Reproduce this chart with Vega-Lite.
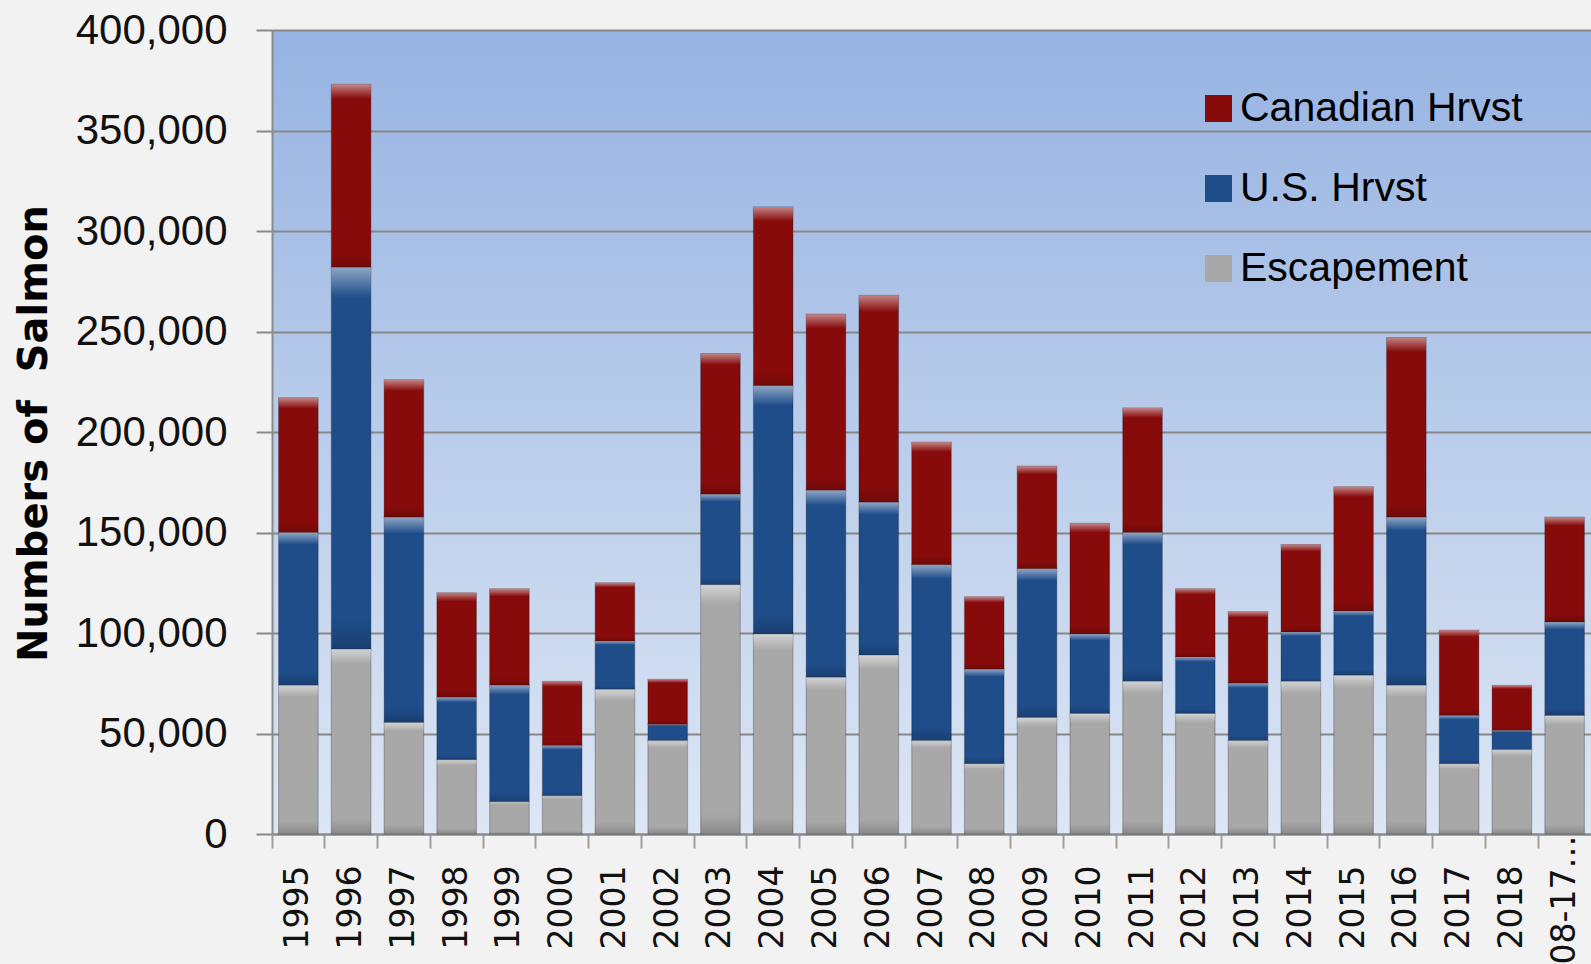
{
  "$schema": "https://vega.github.io/schema/vega-lite/v6.json",
  "width": 1319,
  "height": 804,
  "autosize": {"type": "none"},
  "padding": {"left": 272, "top": 30, "right": 0, "bottom": 130},
  "background": "#f2f2f2",
  "config": {
    "view": {
      "stroke": null,
      "fill": {"gradient": "linear", "x1": 0, "y1": 0, "x2": 0, "y2": 1,
        "stops": [{"offset": 0, "color": "#96b3e2"}, {"offset": 1, "color": "#dde6f4"}]}
    }
  },
  "data": {
    "values": [
      {"year": "1995", "series": "Escapement", "value": 74000}, {"year": "1995", "series": "U.S. Hrvst", "value": 76000}, {"year": "1995", "series": "Canadian Hrvst", "value": 67000},
      {"year": "1996", "series": "Escapement", "value": 92000}, {"year": "1996", "series": "U.S. Hrvst", "value": 190000}, {"year": "1996", "series": "Canadian Hrvst", "value": 91000},
      {"year": "1997", "series": "Escapement", "value": 55500}, {"year": "1997", "series": "U.S. Hrvst", "value": 102100}, {"year": "1997", "series": "Canadian Hrvst", "value": 68400},
      {"year": "1998", "series": "Escapement", "value": 37000}, {"year": "1998", "series": "U.S. Hrvst", "value": 31000}, {"year": "1998", "series": "Canadian Hrvst", "value": 52000},
      {"year": "1999", "series": "Escapement", "value": 16000}, {"year": "1999", "series": "U.S. Hrvst", "value": 58000}, {"year": "1999", "series": "Canadian Hrvst", "value": 48000},
      {"year": "2000", "series": "Escapement", "value": 19000}, {"year": "2000", "series": "U.S. Hrvst", "value": 25000}, {"year": "2000", "series": "Canadian Hrvst", "value": 32000},
      {"year": "2001", "series": "Escapement", "value": 72000}, {"year": "2001", "series": "U.S. Hrvst", "value": 24000}, {"year": "2001", "series": "Canadian Hrvst", "value": 29000},
      {"year": "2002", "series": "Escapement", "value": 46500}, {"year": "2002", "series": "U.S. Hrvst", "value": 8000}, {"year": "2002", "series": "Canadian Hrvst", "value": 22500},
      {"year": "2003", "series": "Escapement", "value": 124000}, {"year": "2003", "series": "U.S. Hrvst", "value": 45000}, {"year": "2003", "series": "Canadian Hrvst", "value": 70000},
      {"year": "2004", "series": "Escapement", "value": 99500}, {"year": "2004", "series": "U.S. Hrvst", "value": 123500}, {"year": "2004", "series": "Canadian Hrvst", "value": 89000},
      {"year": "2005", "series": "Escapement", "value": 78000}, {"year": "2005", "series": "U.S. Hrvst", "value": 93000}, {"year": "2005", "series": "Canadian Hrvst", "value": 87600},
      {"year": "2006", "series": "Escapement", "value": 89000}, {"year": "2006", "series": "U.S. Hrvst", "value": 76000}, {"year": "2006", "series": "Canadian Hrvst", "value": 103000},
      {"year": "2007", "series": "Escapement", "value": 46500}, {"year": "2007", "series": "U.S. Hrvst", "value": 87500}, {"year": "2007", "series": "Canadian Hrvst", "value": 61000},
      {"year": "2008", "series": "Escapement", "value": 35000}, {"year": "2008", "series": "U.S. Hrvst", "value": 47000}, {"year": "2008", "series": "Canadian Hrvst", "value": 36000},
      {"year": "2009", "series": "Escapement", "value": 58000}, {"year": "2009", "series": "U.S. Hrvst", "value": 74000}, {"year": "2009", "series": "Canadian Hrvst", "value": 51000},
      {"year": "2010", "series": "Escapement", "value": 60000}, {"year": "2010", "series": "U.S. Hrvst", "value": 39500}, {"year": "2010", "series": "Canadian Hrvst", "value": 55000},
      {"year": "2011", "series": "Escapement", "value": 76000}, {"year": "2011", "series": "U.S. Hrvst", "value": 74000}, {"year": "2011", "series": "Canadian Hrvst", "value": 62000},
      {"year": "2012", "series": "Escapement", "value": 60000}, {"year": "2012", "series": "U.S. Hrvst", "value": 28000}, {"year": "2012", "series": "Canadian Hrvst", "value": 34000},
      {"year": "2013", "series": "Escapement", "value": 46500}, {"year": "2013", "series": "U.S. Hrvst", "value": 28500}, {"year": "2013", "series": "Canadian Hrvst", "value": 35600},
      {"year": "2014", "series": "Escapement", "value": 76000}, {"year": "2014", "series": "U.S. Hrvst", "value": 24500}, {"year": "2014", "series": "Canadian Hrvst", "value": 43500},
      {"year": "2015", "series": "Escapement", "value": 79000}, {"year": "2015", "series": "U.S. Hrvst", "value": 32000}, {"year": "2015", "series": "Canadian Hrvst", "value": 61700},
      {"year": "2016", "series": "Escapement", "value": 74000}, {"year": "2016", "series": "U.S. Hrvst", "value": 83600}, {"year": "2016", "series": "Canadian Hrvst", "value": 89400},
      {"year": "2017", "series": "Escapement", "value": 35000}, {"year": "2017", "series": "U.S. Hrvst", "value": 24000}, {"year": "2017", "series": "Canadian Hrvst", "value": 42500},
      {"year": "2018", "series": "Escapement", "value": 42000}, {"year": "2018", "series": "U.S. Hrvst", "value": 9500}, {"year": "2018", "series": "Canadian Hrvst", "value": 22500},
      {"year": "08-17…", "series": "Escapement", "value": 59000}, {"year": "08-17…", "series": "U.S. Hrvst", "value": 46500}, {"year": "08-17…", "series": "Canadian Hrvst", "value": 52100}
    ]
  },
  "transform": [
    {"calculate": "indexof(['Escapement','U.S. Hrvst','Canadian Hrvst'], datum.series)", "as": "stackOrder"}
  ],
  "encoding": {
    "x": {
      "field": "year", "type": "nominal", "sort": null,
      "scale": {"paddingInner": 0, "paddingOuter": 0},
      "axis": {
        "title": null, "bandPosition": 0, "labelAngle": -90,
        "labelFont": "DejaVu Sans", "labelFontSize": 33, "labelColor": "#111111",
        "tickSize": 14, "tickColor": "#a0a0a0", "tickWidth": 2,
        "labelPadding": {"condition": {"test": "datum.value === '08-17…'", "value": -13}, "value": 17},
        "domainColor": "#8a8a8a", "domainWidth": 2
      }
    },
    "y": {
      "field": "value", "type": "quantitative", "stack": "zero",
      "scale": {"domain": [0, 400000], "nice": false},
      "axis": {
        "title": "Numbers of \u00a0Salmon",
        "values": [0, 50000, 100000, 150000, 200000, 250000, 300000, 350000, 400000],
        "format": ",d",
        "grid": true, "gridColor": "#878787", "gridWidth": 2,
        "domainColor": "#8a8a8a", "domainWidth": 2,
        "tickColor": "#8a8a8a", "tickWidth": 2, "tickSize": 16,
        "labelFont": "Liberation Sans", "labelFontSize": 42, "labelColor": "#111111",
        "labelPadding": 29,
        "titleFont": "DejaVu Sans", "titleFontWeight": "bold", "titleFontSize": 40,
        "titleColor": "#000000", "titleX": -226, "titleY": 403, "titleBaseline": "alphabetic"
      }
    },
    "detail": {"field": "series"},
    "order": {"field": "stackOrder", "type": "quantitative"}
  },
  "layer": [
    {
      "mark": {"type": "bar", "width": {"band": 0.75}, "stroke": "rgba(0,0,0,0.22)", "strokeWidth": 1.2},
      "encoding": {
        "color": {
          "field": "series", "type": "nominal",
          "scale": {"domain": ["Canadian Hrvst", "U.S. Hrvst", "Escapement"], "range": ["#880b0b", "#1f4d8a", "#a8a8a8"]},
          "legend": {
            "title": null, "orient": "none", "legendX": 926, "legendY": 58,
            "symbolType": "square", "symbolSize": 729, "symbolStrokeWidth": 0,
            "labelFont": "Liberation Sans", "labelFontSize": 41, "labelColor": "#000000",
            "labelLimit": 500,
            "rowPadding": 38, "labelOffset": 1, "padding": 0
          }
        }
      }
    },
    {
      "mark": {
        "type": "bar", "width": {"band": 0.75}, "strokeWidth": 0,
        "fill": {"gradient": "linear", "x1": 0, "y1": 0, "x2": 0, "y2": 1, "stops": [
          {"offset": 0, "color": "rgba(255,255,255,0.5)"},
          {"offset": 0.08, "color": "rgba(255,255,255,0.0)"},
          {"offset": 0.92, "color": "rgba(0,0,0,0.0)"},
          {"offset": 1, "color": "rgba(0,0,0,0.18)"}
        ]}
      }
    }
  ]
}
